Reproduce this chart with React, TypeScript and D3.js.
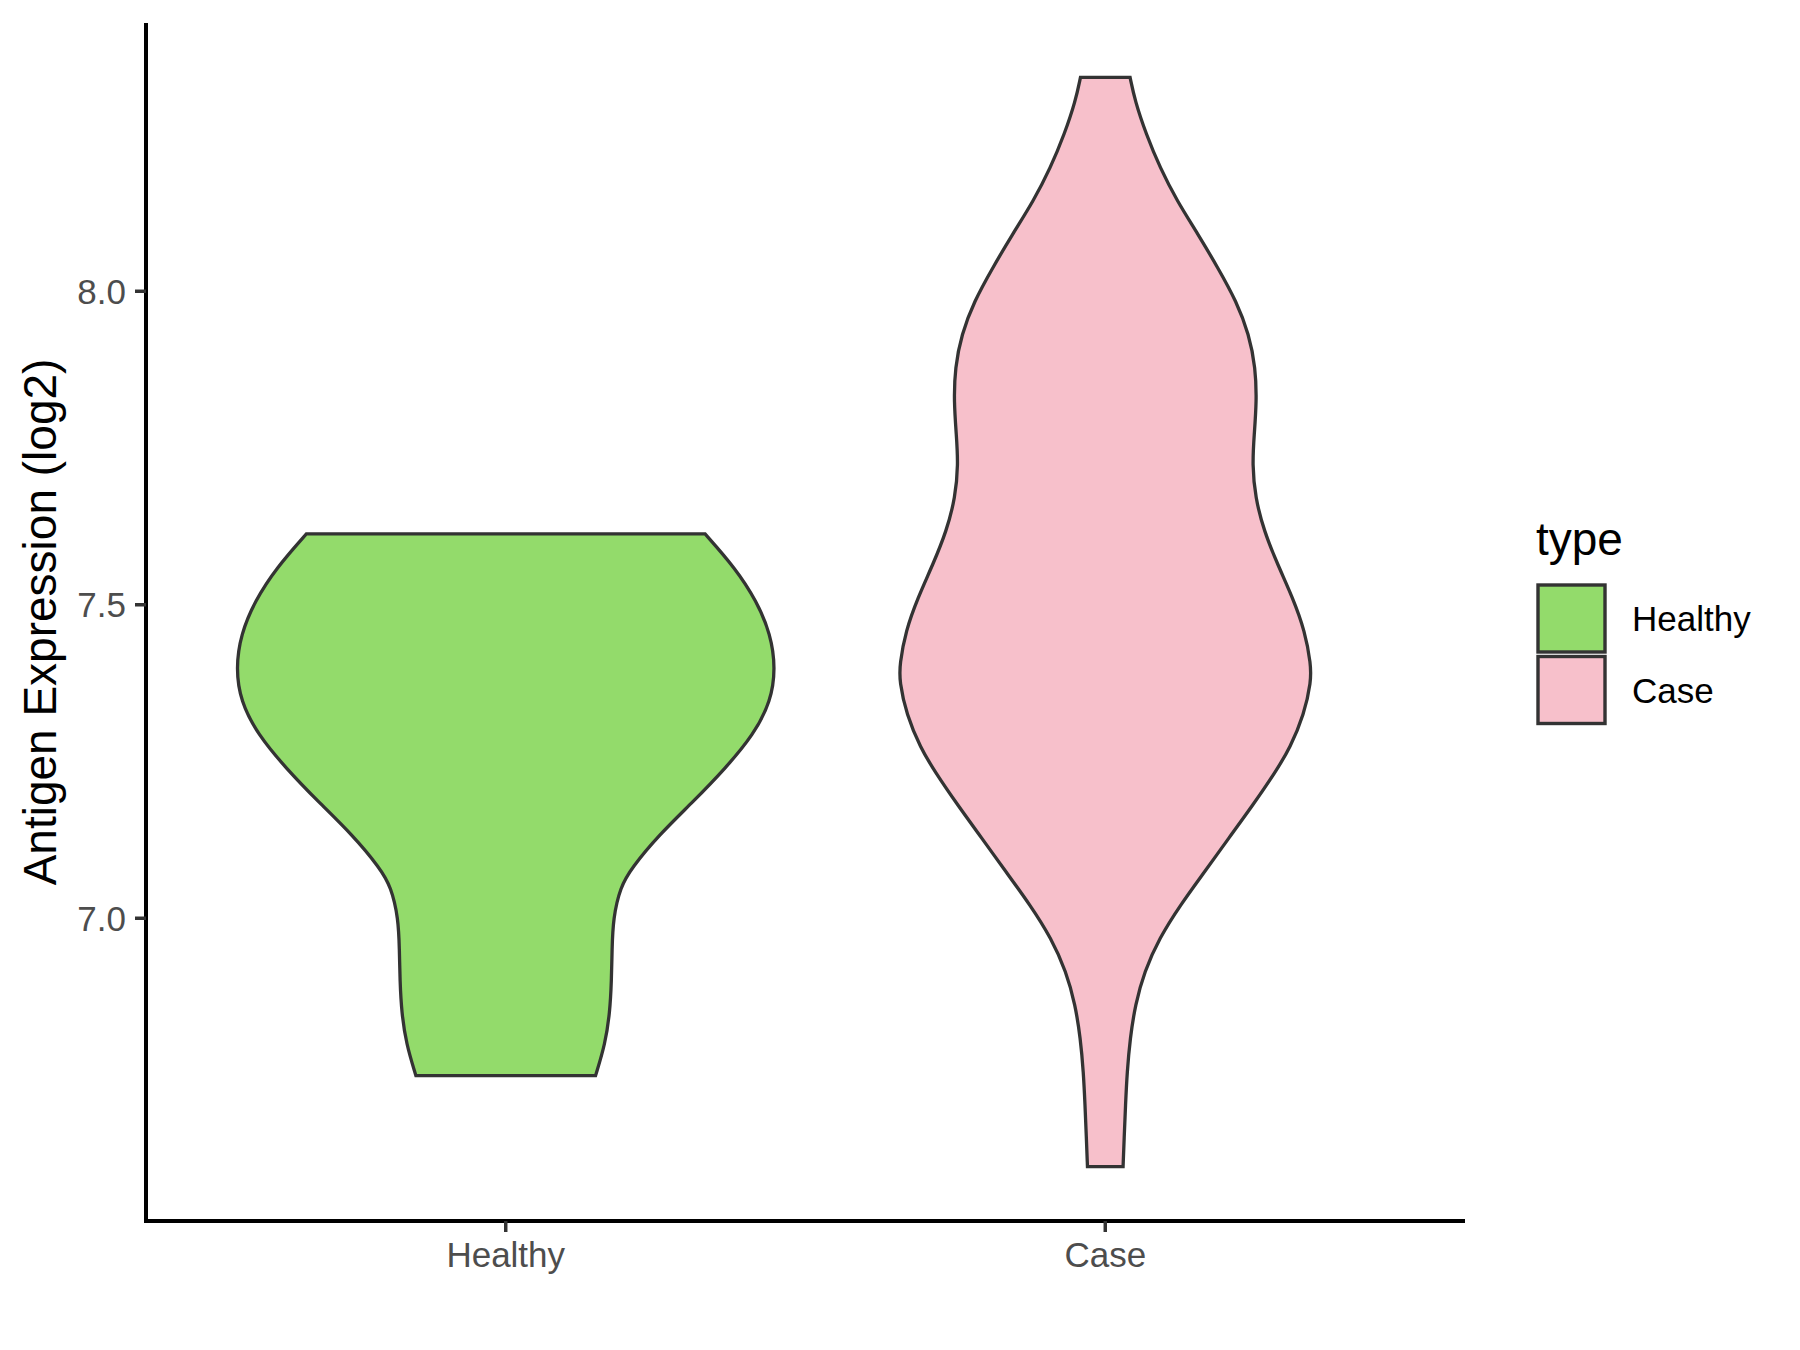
import React from 'react';
import * as d3 from 'd3';

const categories = ['Healthy', 'Case'];
const fillColors = ['#93DB6B', '#F7C0CB'];

// Violin outlines: expression value and relative density (Healthy max = 1)
const healthyValues = [6.749, 6.8, 6.85, 6.9, 6.95, 7.0, 7.05, 7.08, 7.133, 7.186, 7.239, 7.293, 7.346, 7.399, 7.453, 7.506, 7.559, 7.613];
const healthyDensity = [0.333, 0.369, 0.386, 0.392, 0.394, 0.398, 0.425, 0.466, 0.568, 0.695, 0.814, 0.919, 0.983, 1.0, 0.982, 0.93, 0.85, 0.739];

const caseValues = [6.604, 6.649, 6.702, 6.755, 6.808, 6.862, 6.915, 6.968, 7.021, 7.074, 7.128, 7.181, 7.234, 7.272, 7.325, 7.378, 7.405, 7.458, 7.511, 7.564, 7.618, 7.671, 7.724, 7.771, 7.824, 7.878, 7.931, 7.984, 8.037, 8.091, 8.144, 8.197, 8.251, 8.304, 8.341];
const caseDensity = [0.066, 0.07, 0.075, 0.081, 0.092, 0.111, 0.145, 0.2, 0.278, 0.368, 0.458, 0.548, 0.632, 0.685, 0.737, 0.763, 0.762, 0.74, 0.695, 0.639, 0.588, 0.556, 0.545, 0.552, 0.561, 0.557, 0.533, 0.486, 0.418, 0.344, 0.266, 0.203, 0.151, 0.11, 0.092];

const yTicks = [7.0, 7.5, 8.0];
const yTickLabels = ['7.0', '7.5', '8.0'];
const yTitle = 'Antigen Expression (log2)';
const legendTitle = 'type';

const FONT = "'Liberation Sans', Arial, Helvetica, sans-serif";

export default function App() {
  const W = 1800;
  const H = 1350;
  const left = 146;
  const right = 1465;
  const top = 23;
  const bottom = 1221;

  const allValues = [...healthyValues, ...caseValues];
  const lo = d3.min(allValues) as number;
  const hi = d3.max(allValues) as number;
  const pad = (hi - lo) * 0.05;
  const y = d3.scaleLinear().domain([lo - pad, hi + pad]).range([bottom, top]);
  const x = d3.scalePoint<string>().domain(categories).range([left, right]).padding(0.6);
  const step = x.step();
  const maxHalf = 0.45 * step;

  const groups = [
    { name: categories[0], values: healthyValues, density: healthyDensity, fill: fillColors[0] },
    { name: categories[1], values: caseValues, density: caseDensity, fill: fillColors[1] },
  ];

  const paths = groups.map((g) => {
    const cx = x(g.name) as number;
    const pts = g.values.map((v, i) => ({ v, d: g.density[i] }));
    const area = d3
      .area<{ v: number; d: number }>()
      .y((p) => y(p.v))
      .x0((p) => cx - p.d * maxHalf)
      .x1((p) => cx + p.d * maxHalf)
      .curve(d3.curveBasis);
    return { ...g, path: area(pts) as string };
  });

  const legendX = 1538;
  const legendY0 = 585;
  const keySize = 67;
  const keyStep = 71.5;

  return (
    <svg
      width={W}
      height={H}
      style={{ position: 'absolute', left: 0, top: 0, background: '#fff' }}
      xmlns="http://www.w3.org/2000/svg"
    >
      <rect x={0} y={0} width={W} height={H} fill="#ffffff" />
      {paths.map((p) => (
        <path key={p.name} d={p.path} fill={p.fill} stroke="#333333" strokeWidth={3.3} strokeLinejoin="miter" />
      ))}

      {/* axes */}
      <line x1={left} x2={left} y1={top} y2={bottom + 2} stroke="#000" strokeWidth={4} />
      <line x1={left - 2} x2={right} y1={bottom} y2={bottom} stroke="#000" strokeWidth={4} />

      {yTicks.map((t, i) => (
        <g key={t}>
          <line x1={left - 11} x2={left} y1={y(t)} y2={y(t)} stroke="#333333" strokeWidth={3.5} />
          <text
            x={left - 20}
            y={y(t)}
            dy="0.36em"
            textAnchor="end"
            fontFamily={FONT}
            fontSize={35}
            fill="#4d4d4d"
          >
            {yTickLabels[i]}
          </text>
        </g>
      ))}

      {categories.map((c) => (
        <g key={c}>
          <line x1={x(c)} x2={x(c)} y1={bottom} y2={bottom + 11} stroke="#333333" strokeWidth={3.5} />
          <text x={x(c)} y={1267} textAnchor="middle" fontFamily={FONT} fontSize={35} fill="#4d4d4d">
            {c}
          </text>
        </g>
      ))}

      <text
        transform={`translate(56, ${(top + bottom) / 2}) rotate(-90)`}
        textAnchor="middle"
        fontFamily={FONT}
        fontSize={46}
        fill="#000"
      >
        {yTitle}
      </text>

      {/* legend */}
      <text x={1536} y={555} fontFamily={FONT} fontSize={46} fill="#000">
        {legendTitle}
      </text>
      {categories.map((c, i) => (
        <g key={c}>
          <rect
            x={legendX}
            y={legendY0 + i * keyStep}
            width={keySize}
            height={keySize}
            fill={fillColors[i]}
            stroke="#333333"
            strokeWidth={3.4}
          />
          <text
            x={1632}
            y={legendY0 + i * keyStep + keySize / 2}
            dy="0.36em"
            fontFamily={FONT}
            fontSize={35}
            fill="#000"
          >
            {c}
          </text>
        </g>
      ))}
    </svg>
  );
}
